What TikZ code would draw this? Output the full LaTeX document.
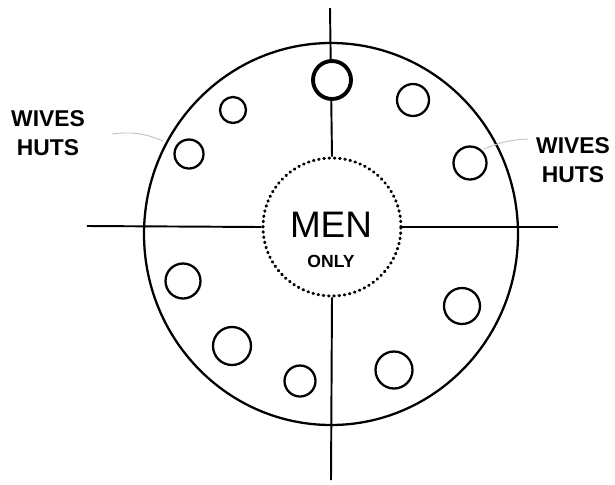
\documentclass[tikz,border=0pt]{standalone}
\usepackage{fontspec}
\setmainfont{Liberation Sans}
\usepackage{tikz}
\usetikzlibrary{
    positioning,
    calc
}
\tikzstyle{ring} = [
    draw=black,
    line width=1.3pt
]
\tikzstyle{hut} = [
    circle,
    draw=black,
    fill=white,
    line width=1.3pt,
    inner sep=0pt
]
\tikzstyle{axis} = [
    draw=black,
    line width=1.1pt
]
\tikzstyle{pointer} = [
    draw=black!25,
    line width=0.5pt
]
\tikzstyle{label} = [
    align=center,
    font=\fontsize{13}{16.5}\selectfont\bfseries
]

\begin{document}
\begin{tikzpicture}[x=0.02cm, y=-0.02cm]
    \useasboundingbox (0,0) rectangle (615,484);

    % Outer ring
    \draw[ring] (331,234) ellipse [x radius=187, y radius=191];

    % Men only centre
    \node[circle, draw=black, dash pattern=on 0.4pt off 2.6pt, line width=1.7pt,
          line cap=round, minimum size=2.76cm, inner sep=0pt] (men) at (332,227) {};
    \node[align=center] (menonly) at (331,240)
        {{\fontsize{21}{22}\selectfont MEN}\\[5pt]{\fontsize{10}{11}\selectfont\bfseries ONLY}};

    % Cross
    \coordinate (top) at (330,8);
    \coordinate (bottom) at (331,480);
    \coordinate (left) at (87,226);
    \coordinate (right) at (558,227);
    \draw[axis] (top) -- (men.north);
    \draw[axis] (men.south) -- (bottom);
    \draw[axis] (left) -- (men.west);
    \draw[axis] (men.east) -- (right);

    % Huts
    \node[hut, minimum size=0.76cm, line width=2.2pt] (h1) at (332,80) {};
    \node[hut, minimum size=0.64cm] (h2) at (413,100) {};
    \node[hut, minimum size=0.66cm] (h3) at (470,163) {};
    \node[hut, minimum size=0.72cm] (h4) at (462,306) {};
    \node[hut, minimum size=0.74cm] (h5) at (394,370) {};
    \node[hut, minimum size=0.62cm] (h6) at (300,381) {};
    \node[hut, minimum size=0.76cm] (h7) at (232,346) {};
    \node[hut, minimum size=0.70cm] (h8) at (183,281) {};
    \node[hut, minimum size=0.58cm] (h9) at (189,154) {};
    \node[hut, minimum size=0.52cm] (h10) at (233,110) {};

    % Labels
    \node[label] (wl) at (48,133) {WIVES\\HUTS};
    \node[label] (wr) at (573,160) {WIVES\\HUTS};
    \coordinate (wlend) at (112,134);
    \coordinate (wrend) at (528,139);
    \coordinate (pl) at (163,141);
    \coordinate (pr) at (484,149);
    \draw[pointer] (wlend) to[bend left=15] (pl);
    \draw[pointer] (wrend) to[bend right=10] (pr);
\end{tikzpicture}
\end{document}
